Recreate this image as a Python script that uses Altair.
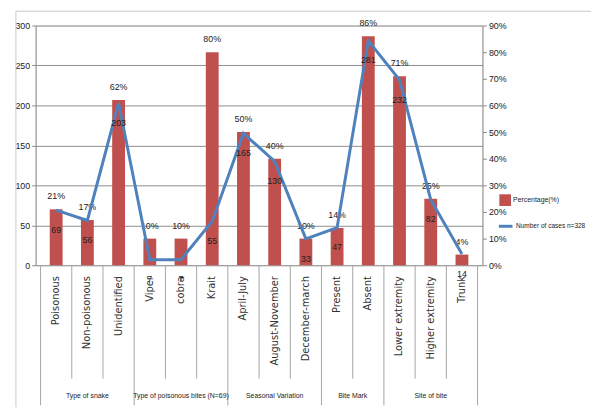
import altair as alt
import pandas as pd

categories = ["Poisonous", "Non-poisonous", "Unidentified", "Viper", "cobra", "Krait",
              "April-July", "August-November", "December-march", "Present", "Absent",
              "Lower extremity", "Higher extremity", "Trunk"]
groups = ["Type of snake"] * 3 + ["Type of poisonous bites (N=69)"] * 3 + \
         ["Seasonal Variation"] * 3 + ["Bite Mark"] * 2 + ["Site of bite"] * 3
pct = [21, 17, 62, 10, 10, 80, 50, 40, 10, 14, 86, 71, 25, 4]
cases = [69, 56, 203, 7, 7, 55, 165, 130, 33, 47, 281, 232, 82, 14]
group_names = ["Type of snake", "Type of poisonous bites (N=69)", "Seasonal Variation",
               "Bite Mark", "Site of bite"]
pct_ticks = [0, 10, 20, 30, 40, 50, 60, 70, 80, 90]
case_ticks = [0, 50, 100, 150, 200, 250, 300]

BAR_LABEL = "Percentage(%)"
LINE_LABEL = "Number of cases  n=328"
RED = "#C0504D"
BLUE = "#4F81BD"
GRID = "#8c8c8c"
NARROW = "Liberation Sans, Arial, sans-serif"
WIDE = "DejaVu Sans, Verdana, sans-serif"
TXT = "#222222"

W, H = 453, 243

df = pd.DataFrame({
    "category": categories,
    "group": groups,
    "pct": pct,
    "cases": cases,
    "pos": [i + 0.5 for i in range(len(categories))],
    "pct_label": [f"{p}%" for p in pct],
    "case_label": [str(c) for c in cases],
})

# group centres / boundaries derived from the group list
starts, ends = [], []
for g in group_names:
    idx = [i for i, gg in enumerate(groups) if gg == g]
    starts.append(idx[0])
    ends.append(idx[-1] + 1)
gdf = pd.DataFrame({"group": group_names,
                    "center": [(s + e) / 2 for s, e in zip(starts, ends)]})
group_bounds = sorted(set(starts + ends))
inner_bounds = [i for i in range(1, len(categories)) if i not in group_bounds]
bdf_group = pd.DataFrame({"b": group_bounds})
bdf_inner = pd.DataFrame({"b": inner_bounds})

xscale = alt.Scale(domain=[0, len(categories)], nice=False, zero=False)
X = alt.X("pos:Q", scale=xscale, axis=None)

pct_scale = alt.Scale(domain=[0, 90], nice=False)
case_scale = alt.Scale(domain=[0, 300], nice=False)

pct_axis = alt.Axis(orient="right", values=pct_ticks, labelExpr="datum.value + '%'",
                    grid=False, title=None, domain=True, domainColor=GRID,
                    tickColor=GRID, tickSize=4, labelPadding=2, labelFont=NARROW,
                    labelFontSize=9, labelColor=TXT)
case_axis = alt.Axis(orient="left", values=case_ticks, grid=True, gridColor=GRID,
                     gridWidth=1, title=None, domain=True, domainColor=GRID,
                     tickColor=GRID, tickSize=4, labelPadding=2, labelFont=NARROW,
                     labelFontSize=9, labelColor=TXT)

base = alt.Chart(df)

bars = base.mark_bar(size=13).encode(
    x=X,
    y=alt.Y("pct:Q", scale=pct_scale, axis=pct_axis),
    fill=alt.Fill("series:N", scale=alt.Scale(domain=[BAR_LABEL], range=[RED]),
                  legend=alt.Legend(title=None, orient="none", legendX=470, legendY=171,
                                    symbolType="square", symbolSize=140,
                                    symbolStrokeWidth=0, labelFont=NARROW,
                                    labelFontSize=7, labelColor=TXT, padding=0,
                                    labelOffset=2)),
).transform_calculate(series=f"'{BAR_LABEL}'")

pct_text = base.mark_text(dy=-13, font=NARROW, fontSize=9, color=TXT).encode(
    x=X,
    y=alt.Y("pct:Q", scale=pct_scale, axis=pct_axis),
    text="pct_label:N",
)

layer_a = alt.layer(bars, pct_text)

line = base.mark_line(strokeWidth=3, strokeJoin="miter").encode(
    x=X,
    y=alt.Y("cases:Q", scale=case_scale, axis=case_axis),
    stroke=alt.Stroke("series:N", scale=alt.Scale(domain=[LINE_LABEL], range=[BLUE]),
                      legend=alt.Legend(title=None, orient="none", legendX=468, legendY=195,
                                        symbolType="stroke", symbolSize=190,
                                        symbolStrokeWidth=3, labelFont=NARROW,
                                        labelFontSize=6.6, labelColor=TXT, padding=0,
                                        labelOffset=2)),
).transform_calculate(series=f"'{LINE_LABEL}'")

case_text = base.mark_text(dy=20, font=NARROW, fontSize=9, color=TXT).encode(
    x=X,
    y=alt.Y("cases:Q", scale=case_scale, axis=case_axis),
    text="case_label:N",
)

layer_b = alt.layer(line, case_text)

cat_text = base.mark_text(angle=270, align="right", baseline="middle", font=WIDE,
                          fontSize=10, color="#333333").encode(
    x=X, y=alt.value(H + 11), text="category:N")

group_text = alt.Chart(gdf).mark_text(baseline="middle", font=NARROW, fontSize=7,
                                       color=TXT).encode(
    x=alt.X("center:Q", scale=xscale, axis=None), y=alt.value(H + 133), text="group:N")

sep_group = alt.Chart(bdf_group).mark_rule(color="#a6a6a6", strokeWidth=1).encode(
    x=alt.X("b:Q", scale=xscale, axis=None), y=alt.value(H), y2=alt.value(H + 142))
sep_inner = alt.Chart(bdf_inner).mark_rule(color="#a6a6a6", strokeWidth=1).encode(
    x=alt.X("b:Q", scale=xscale, axis=None), y=alt.value(H), y2=alt.value(H + 115))

frame_left = alt.Chart(bdf_group.head(1)).mark_rule(color="#c8c8c8", strokeWidth=1).encode(
    x=alt.value(-20), y=alt.value(-14.5), y2=alt.value(H + 144))
frame_top = alt.Chart(bdf_group.head(1)).mark_rule(color="#c8c8c8", strokeWidth=1).encode(
    x=alt.value(-20), x2=alt.value(W + 140), y=alt.value(-14.5))

chart = alt.layer(
    layer_a, layer_b, sep_group, sep_inner, cat_text, group_text, frame_left, frame_top
).resolve_scale(
    y="independent", fill="independent", stroke="independent"
).properties(
    width=W, height=H,
    autosize=alt.AutoSizeParams(type="none"),
    padding={"left": 28, "top": 15, "right": 110, "bottom": 146},
).configure_view(stroke=None).configure(background="white")

chart.save("out.html", embed_options={"renderer": "svg", "actions": False})
